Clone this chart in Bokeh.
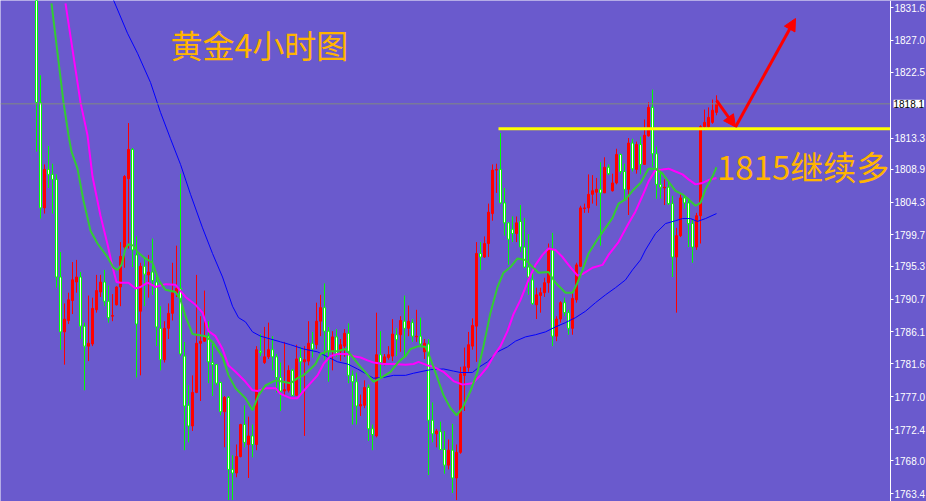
from bokeh.plotting import figure
from bokeh.models import (ColumnDataSource, FixedTicker, NumeralTickFormatter,
                          Label, Arrow, NormalHead)
from bokeh.core.properties import value
from bokeh.embed import file_html
from bokeh.resources import INLINE

# ---------------- data (XAUUSD 4H candles) ----------------
opens = [1836.0, 1818.3, 1803.5, 1808.9, 1808.2, 1807.5, 1793.8, 1786.1, 1787.7, 1790.5,
         1793.1, 1793.8, 1786.9, 1784.1, 1784.4, 1789.2, 1791.7, 1793.1, 1790.4, 1788.3,
         1789.9, 1792.4, 1798.0, 1807.6, 1811.7, 1796.9, 1789.0, 1795.3, 1794.1, 1794.5,
         1793.1, 1786.6, 1782.2, 1786.6, 1788.7, 1791.6, 1792.2, 1782.7, 1775.8, 1772.9,
         1777.6, 1784.5, 1784.8, 1785.5, 1781.8, 1781.5, 1779.0, 1774.9, 1776.9, 1766.8,
         1766.3, 1768.6, 1773.1, 1770.3, 1771.5, 1770.3, 1783.4, 1781.8, 1782.6, 1783.6,
         1782.6, 1779.7, 1777.8, 1777.9, 1780.7, 1777.2, 1782.5, 1781.9, 1782.0, 1784.5,
         1784.3, 1787.6, 1789.5, 1786.2, 1783.4, 1785.4, 1783.4, 1784.1, 1785.9, 1780.0,
         1779.1, 1775.7, 1775.8, 1778.3, 1772.5, 1771.5, 1782.9, 1781.8, 1782.5, 1782.7,
         1785.7, 1785.7, 1787.6, 1786.6, 1787.4, 1785.4, 1785.5, 1783.3, 1784.4, 1773.7,
         1771.8, 1772.1, 1769.6, 1767.4, 1769.5, 1765.6, 1769.2, 1780.0, 1781.1, 1784.1,
         1786.9, 1797.1, 1796.6, 1798.5, 1802.7, 1808.8, 1808.9, 1804.2, 1801.4, 1800.5,
         1799.9, 1801.6, 1798.0, 1795.2, 1793.4, 1789.9, 1791.2, 1791.6, 1793.0, 1797.6,
         1785.5, 1787.9, 1790.2, 1788.8, 1786.6, 1790.6, 1795.3, 1803.4, 1803.5, 1805.4,
         1805.7, 1806.1, 1805.6, 1809.2, 1805.9, 1807.0, 1811.0, 1808.6, 1806.1, 1812.6,
         1808.9, 1812.4, 1809.6, 1813.6, 1817.6, 1811.1, 1806.8, 1806.3, 1806.4, 1804.1,
         1796.6, 1799.6, 1804.9, 1804.2, 1801.3, 1798.0, 1802.4, 1814.9, 1814.9, 1815.5,
         1816.9]
highs = [1837.0, 1822.1, 1809.6, 1812.2, 1809.7, 1808.2, 1797.3, 1790.1, 1791.6, 1795.9,
         1796.2, 1794.5, 1787.4, 1791.2, 1790.9, 1794.1, 1794.1, 1794.8, 1792.6, 1791.4,
         1792.5, 1798.7, 1808.1, 1815.4, 1811.9, 1799.5, 1795.8, 1796.3, 1796.9, 1799.2,
         1793.8, 1789.7, 1787.6, 1790.1, 1795.8, 1798.2, 1808.3, 1784.7, 1778.6, 1780.0,
         1794.1, 1788.3, 1791.9, 1787.6, 1784.4, 1781.6, 1779.1, 1777.1, 1777.1, 1768.8,
         1770.3, 1773.2, 1775.8, 1774.2, 1773.1, 1784.1, 1785.8, 1786.8, 1787.4, 1785.5,
         1783.0, 1781.8, 1784.7, 1781.4, 1780.9, 1784.3, 1784.0, 1784.1, 1787.6, 1786.1,
         1790.2, 1791.3, 1792.9, 1786.8, 1786.2, 1786.5, 1785.1, 1786.5, 1787.3, 1780.7,
         1780.4, 1777.3, 1779.3, 1778.7, 1773.1, 1788.8, 1786.2, 1783.0, 1784.1, 1787.9,
         1786.6, 1788.3, 1791.2, 1789.8, 1787.9, 1789.2, 1788.1, 1785.1, 1785.1, 1776.2,
         1772.5, 1773.5, 1772.2, 1771.0, 1773.2, 1770.3, 1781.2, 1783.9, 1786.1, 1788.0,
         1798.7, 1798.7, 1799.5, 1804.1, 1809.6, 1809.7, 1814.0, 1806.3, 1801.5, 1802.3,
         1802.3, 1803.9, 1802.1, 1799.8, 1794.5, 1792.3, 1792.3, 1793.7, 1798.5, 1800.0,
         1788.3, 1790.4, 1790.9, 1789.2, 1791.6, 1795.8, 1803.8, 1804.1, 1808.2, 1808.1,
         1807.7, 1809.9, 1810.6, 1809.6, 1808.3, 1811.8, 1811.1, 1809.7, 1813.3, 1813.2,
         1812.8, 1813.5, 1815.9, 1818.3, 1820.1, 1812.1, 1809.0, 1807.5, 1807.2, 1805.2,
         1800.7, 1805.4, 1805.3, 1804.8, 1801.9, 1802.8, 1815.1, 1817.3, 1817.6, 1818.7,
         1819.3]
lows = [1811.4, 1802.0, 1802.7, 1806.3, 1802.7, 1792.3, 1783.6, 1781.5, 1787.2, 1788.6,
        1791.6, 1785.1, 1777.9, 1782.0, 1784.1, 1788.8, 1791.0, 1789.7, 1787.4, 1787.6,
        1789.8, 1789.7, 1795.1, 1797.8, 1795.2, 1779.7, 1780.0, 1789.7, 1790.9, 1791.3,
        1784.1, 1780.7, 1781.8, 1785.1, 1787.7, 1791.0, 1782.7, 1769.5, 1770.6, 1772.2,
        1777.5, 1776.4, 1784.7, 1778.9, 1777.1, 1778.6, 1774.4, 1769.9, 1762.5, 1762.5,
        1765.7, 1768.5, 1769.9, 1765.6, 1768.5, 1769.5, 1782.7, 1781.6, 1782.3, 1780.7,
        1777.6, 1775.0, 1777.2, 1777.6, 1777.1, 1777.1, 1777.2, 1771.5, 1781.4, 1782.5,
        1783.7, 1785.5, 1782.2, 1779.1, 1780.7, 1782.6, 1782.0, 1782.6, 1778.9, 1773.1,
        1773.1, 1774.3, 1775.4, 1770.8, 1769.5, 1771.3, 1779.6, 1781.4, 1782.2, 1782.0,
        1782.7, 1783.3, 1782.7, 1785.5, 1784.7, 1784.7, 1784.1, 1782.3, 1766.0, 1770.6,
        1769.9, 1769.5, 1766.2, 1766.8, 1763.5, 1762.5, 1769.0, 1775.0, 1780.5, 1783.6,
        1781.9, 1794.8, 1796.5, 1796.6, 1801.7, 1805.6, 1804.1, 1799.6, 1795.5, 1798.7,
        1798.7, 1797.3, 1795.1, 1791.3, 1789.9, 1787.9, 1788.8, 1791.0, 1791.6, 1784.1,
        1784.8, 1787.4, 1788.3, 1785.7, 1785.7, 1790.2, 1795.2, 1802.8, 1802.8, 1804.1,
        1803.8, 1798.2, 1805.6, 1808.1, 1805.8, 1806.8, 1808.3, 1804.5, 1802.5, 1808.6,
        1808.3, 1808.2, 1809.6, 1813.5, 1809.3, 1804.8, 1804.8, 1803.9, 1803.9, 1793.8,
        1788.8, 1799.4, 1803.4, 1798.0, 1795.8, 1797.6, 1798.5, 1814.4, 1814.6, 1815.3,
        1816.5]
closes = [1818.3, 1803.5, 1808.9, 1808.2, 1807.5, 1793.8, 1786.1, 1787.9, 1790.6, 1793.4,
          1793.8, 1786.9, 1784.1, 1784.5, 1789.4, 1791.9, 1793.1, 1790.4, 1788.1, 1788.4,
          1792.4, 1796.7, 1807.9, 1811.7, 1797.6, 1787.2, 1795.3, 1794.2, 1794.5, 1793.3,
          1786.8, 1782.2, 1786.6, 1788.7, 1791.6, 1792.2, 1783.0, 1775.7, 1772.9, 1777.6,
          1784.5, 1784.8, 1785.5, 1781.9, 1781.5, 1778.9, 1774.9, 1776.9, 1766.8, 1766.3,
          1768.6, 1773.1, 1770.6, 1771.5, 1770.3, 1783.6, 1783.2, 1782.6, 1783.6, 1782.6,
          1779.7, 1777.8, 1778.0, 1780.7, 1777.2, 1782.3, 1781.9, 1782.2, 1784.5, 1783.7,
          1787.6, 1789.5, 1786.2, 1783.4, 1785.4, 1783.0, 1784.3, 1785.9, 1780.0, 1779.1,
          1775.7, 1775.9, 1778.3, 1772.5, 1771.7, 1782.9, 1781.8, 1782.6, 1782.9, 1785.8,
          1785.0, 1787.7, 1786.6, 1787.6, 1785.5, 1785.5, 1784.4, 1784.5, 1773.7, 1771.8,
          1772.2, 1769.6, 1767.4, 1769.5, 1765.6, 1769.2, 1780.2, 1781.2, 1784.3, 1787.0,
          1797.1, 1796.6, 1798.5, 1802.9, 1808.8, 1808.9, 1804.2, 1801.4, 1799.1, 1799.9,
          1801.4, 1798.0, 1795.2, 1793.8, 1790.1, 1791.3, 1791.6, 1793.0, 1797.8, 1785.5,
          1787.9, 1790.2, 1788.8, 1786.6, 1790.8, 1795.5, 1803.5, 1803.5, 1805.4, 1805.9,
          1806.1, 1805.6, 1809.2, 1808.3, 1807.0, 1811.0, 1808.6, 1806.1, 1812.6, 1809.0,
          1812.4, 1809.6, 1813.7, 1817.6, 1811.1, 1806.8, 1806.4, 1806.4, 1804.1, 1796.6,
          1799.6, 1804.9, 1804.2, 1801.3, 1798.0, 1802.4, 1814.9, 1815.5, 1816.2, 1817.2,
          1818.1]

# moving averages (bar index, price)
fast_ma_x = [3.75, 6.75, 8.0, 8.75, 10.25, 11.75, 13.5, 15.25, 17.75, 19.25,
             20.25, 21.25, 22.25, 23.0, 24.25, 25.25, 26.75, 29.0, 30.5, 32.25,
             34.75, 36.0, 37.25, 39.0, 42.25, 44.0, 46.5, 48.0, 49.75, 52.25,
             54.0, 55.5, 57.25, 59.75, 63.5, 65.25, 66.75, 68.5, 69.75, 71.0,
             72.75, 75.25, 77.25, 79.0, 81.0, 82.75, 84.25, 86.0, 88.5, 90.5,
             92.25, 93.5, 95.5, 97.25, 98.5, 100.25, 101.75, 103.5, 105.0, 106.5,
             108.5, 110.25, 111.75, 113.5, 115.25, 116.75, 118.5, 120.25, 122.25, 124.0,
             125.5, 128.0, 129.75, 132.25, 134.0, 135.25, 136.5, 138.0, 140.5, 142.25,
             144.0, 145.5, 147.25, 149.0, 151.0, 153.0, 154.75, 156.5, 158.0, 159.75,
             161.5, 163.0, 164.75, 166.0, 167.25, 169.0, 170.0]
fast_ma_y = [1832.2, 1818.3, 1813.7, 1811.4, 1809.0, 1804.5, 1800.3, 1798.5, 1796.6, 1795.1,
             1794.8, 1795.5, 1797.8, 1798.4, 1798.2, 1797.3, 1796.6, 1795.8, 1793.4, 1792.0,
             1791.7, 1790.6, 1788.3, 1785.8, 1785.5, 1784.7, 1782.6, 1780.0, 1778.2, 1776.8,
             1775.1, 1777.2, 1778.6, 1779.3, 1778.9, 1779.6, 1780.0, 1780.9, 1781.6, 1783.0,
             1783.4, 1783.4, 1783.7, 1782.6, 1781.2, 1780.1, 1779.1, 1779.6, 1780.5, 1781.9,
             1782.7, 1783.7, 1784.1, 1784.0, 1782.3, 1779.6, 1777.2, 1775.4, 1774.4, 1775.4,
             1777.8, 1780.5, 1784.1, 1788.8, 1792.4, 1794.4, 1795.2, 1796.4, 1796.2, 1795.2,
             1794.4, 1794.5, 1793.0, 1791.6, 1791.6, 1793.0, 1794.8, 1797.1, 1799.3, 1800.7,
             1802.1, 1804.1, 1804.7, 1805.9, 1807.0, 1809.0, 1809.0, 1808.3, 1807.2, 1805.9,
             1805.4, 1804.7, 1803.8, 1804.2, 1806.1, 1807.9, 1809.2]
mid_ma_x = [7.25, 11.0, 12.75, 14.0, 16.0, 17.75, 19.0, 20.0, 21.0, 23.0,
            24.75, 26.0, 27.75, 29.75, 32.25, 34.75, 37.25, 39.75, 41.5, 43.0,
            44.75, 46.5, 48.0, 49.75, 52.25, 54.0, 55.25, 57.25, 59.75, 61.0,
            63.5, 65.25, 66.75, 68.5, 70.25, 71.75, 73.5, 75.25, 77.75, 79.25,
            81.0, 82.75, 84.25, 86.75, 89.25, 92.25, 94.25, 95.5, 97.75, 99.25,
            101.75, 104.25, 106.5, 109.0, 111.0, 112.75, 114.25, 116.0, 117.75, 119.25,
            121.0, 123.0, 124.75, 126.5, 128.0, 129.75, 131.5, 133.0, 135.25, 136.5,
            139.0, 141.5, 143.0, 145.5, 148.0, 149.75, 151.5, 153.0, 154.75, 156.5,
            158.0, 159.75, 161.5, 163.0, 164.75, 166.5, 168.0, 170.0]
mid_ma_y = [1832.2, 1818.3, 1813.7, 1807.9, 1802.4, 1798.4, 1795.2, 1793.1, 1793.0, 1793.0,
            1792.2, 1792.4, 1793.0, 1792.4, 1792.8, 1792.7, 1791.0, 1789.9, 1788.8, 1786.2,
            1785.5, 1783.7, 1781.4, 1780.5, 1779.1, 1777.9, 1777.8, 1778.2, 1778.2, 1777.4,
            1776.8, 1776.8, 1777.8, 1778.9, 1780.0, 1781.6, 1782.7, 1783.0, 1783.0, 1782.7,
            1782.5, 1782.1, 1781.8, 1781.6, 1781.6, 1781.5, 1781.6, 1781.9, 1781.4, 1781.2,
            1780.5, 1779.2, 1778.7, 1778.9, 1780.0, 1781.2, 1782.7, 1784.1, 1786.2, 1788.6,
            1790.6, 1793.4, 1795.5, 1796.9, 1797.8, 1797.6, 1796.6, 1795.5, 1794.0, 1794.2,
            1795.1, 1795.5, 1796.9, 1798.7, 1801.3, 1803.0, 1805.2, 1807.2, 1808.8, 1808.9,
            1809.0, 1808.6, 1808.2, 1807.5, 1806.8, 1807.0, 1807.4, 1807.7]
slow_ma_x = [19.0, 22.75, 25.25, 28.5, 31.0, 33.5, 36.0, 38.5, 41.5, 44.0,
             46.5, 49.0, 50.5, 52.25, 54.0, 56.0, 58.5, 61.0, 63.5, 66.75,
             70.25, 72.75, 75.25, 77.75, 80.25, 82.75, 84.25, 86.75, 89.25, 92.25,
             94.25, 98.5, 101.75, 104.25, 106.0, 109.0, 110.5, 112.75, 115.25, 117.75,
             119.75, 122.25, 124.75, 127.25, 129.75, 132.25, 134.75, 137.25, 139.75, 142.25,
             144.75, 147.25, 149.0, 151.0, 152.25, 154.75, 157.25, 159.75, 161.5, 163.5,
             165.25, 167.25, 170.0]
slow_ma_y = [1833.0, 1828.0, 1825.2, 1821.1, 1816.9, 1813.2, 1809.6, 1805.4, 1800.7, 1797.1,
             1793.8, 1789.7, 1788.1, 1787.5, 1786.1, 1785.5, 1785.1, 1784.7, 1784.3, 1783.7,
             1783.3, 1782.6, 1781.9, 1781.6, 1780.9, 1780.1, 1779.6, 1779.7, 1780.0, 1780.0,
             1780.3, 1780.8, 1780.9, 1780.6, 1780.4, 1780.4, 1781.1, 1781.9, 1783.3, 1784.0,
             1784.8, 1785.4, 1785.7, 1786.1, 1786.8, 1787.4, 1788.1, 1789.0, 1790.2, 1791.3,
             1792.3, 1793.4, 1794.8, 1796.2, 1797.6, 1799.9, 1801.3, 1801.7, 1802.0, 1802.0,
             1801.6, 1802.0, 1802.7]

price_ticks = [1831.6, 1827.0, 1822.5, 1813.3, 1808.9, 1804.3, 1799.7, 1795.3,
               1790.7, 1786.1, 1781.6, 1777.0, 1772.4, 1768.0, 1763.4]
last_price = 1818.1
support_level = 1814.6
support_start_bar = 115.5
title_text = "黄金4小时图"
note_text = "1815继续多"
arrow_bars = [170.0, 174.75, 189.75]
arrow_prices = [1818.6, 1814.85, 1830.07]

# ---------------- plot ----------------
BG = "#6a5acd"
X_START, X_END = -9.0, 222.5      # visible bar range
AXIS_AT = 213.5                   # price scale sits at this bar position
p = figure(width=926, height=501, x_range=(X_START, X_END), y_range=(1762.3, 1832.6),
           output_backend="svg", toolbar_location=None,
           x_axis_location=None, y_axis_location="right",
           background_fill_color=BG, border_fill_color=BG, outline_line_color=None,
           min_border_left=0, min_border_top=0, min_border_bottom=0, min_border_right=0)
p.grid.visible = False

idx = list(range(len(opens)))
up = [c >= o for o, c in zip(opens, closes)]


def pick(flag):
    return ColumnDataSource(dict(
        x=[i for i, u in zip(idx, up) if u == flag],
        hi=[h for h, u in zip(highs, up) if u == flag],
        lo=[l for l, u in zip(lows, up) if u == flag],
        top=[max(o, c) for o, c, u in zip(opens, closes, up) if u == flag],
        bot=[min(o, c) for o, c, u in zip(opens, closes, up) if u == flag]))


src_up, src_dn = pick(True), pick(False)

GREEN = "#00ff00"
RED = "#ff0000"
p.segment(x0="x", y0="lo", x1="x", y1="hi", source=src_up, line_color=RED, line_width=1)
p.segment(x0="x", y0="lo", x1="x", y1="hi", source=src_dn, line_color=GREEN, line_width=1)
p.vbar(x="x", top="top", bottom="bot", width=0.5, source=src_up,
       fill_color=RED, line_color=RED, line_width=1)
p.vbar(x="x", top="top", bottom="bot", width=0.5, source=src_dn,
       fill_color="white", line_color=GREEN, line_width=1)

# moving averages
p.line(slow_ma_x, slow_ma_y, line_color="#0000ff", line_width=1)
p.line(mid_ma_x, mid_ma_y, line_color="#ff00ff", line_width=2)
p.line(fast_ma_x, fast_ma_y, line_color="#33cc33", line_width=2)

# current price line
p.segment(x0=[X_START], y0=[last_price], x1=[AXIS_AT], y1=[last_price],
          line_color="#808a80", line_width=1)

# support line
p.segment(x0=[support_start_bar], y0=[support_level], x1=[AXIS_AT], y1=[support_level],
          line_color="#ffff00", line_width=3)

# arrows
for k in range(len(arrow_bars) - 1):
    p.add_layout(Arrow(end=NormalHead(size=12, fill_color=RED, line_color=RED, line_width=1),
                       x_start=arrow_bars[k], y_start=arrow_prices[k],
                       x_end=arrow_bars[k + 1], y_end=arrow_prices[k + 1],
                       line_color=RED, line_width=3))

# texts
ORANGE = "#ffb400"
p.text(x=[33.5], y=[1826.5], text=[title_text], text_font=value("Noto Sans CJK SC"),
       text_font_size="32px", text_color=ORANGE, text_baseline="middle", text_align="left")
p.text(x=[AXIS_AT - 0.3], y=[1809.4], text=[note_text], text_font=value("Noto Sans CJK SC"),
       text_font_size="33px", text_color=ORANGE, text_baseline="middle", text_align="right")

# right price axis, fixed at the price-scale position
ax = p.yaxis[0]
ax.fixed_location = AXIS_AT
ax.ticker = FixedTicker(ticks=price_ticks)
ax.formatter = NumeralTickFormatter(format="0.0")
ax.axis_line_color = "white"
ax.major_tick_line_color = "white"
ax.minor_tick_line_color = None
ax.major_tick_in = 0
ax.major_tick_out = 3
ax.major_label_standoff = 1
ax.major_label_text_color = "white"
ax.major_label_text_font = "Liberation Sans"
ax.major_label_text_font_size = "10px"

p.add_layout(Label(x=AXIS_AT, y=last_price, x_offset=3, text=f"{last_price:.1f}",
                   text_font="Liberation Sans", text_font_size="10px",
                   text_color="black", text_baseline="middle",
                   background_fill_color="white"))

open("out.html", "w").write(file_html(p, INLINE))
